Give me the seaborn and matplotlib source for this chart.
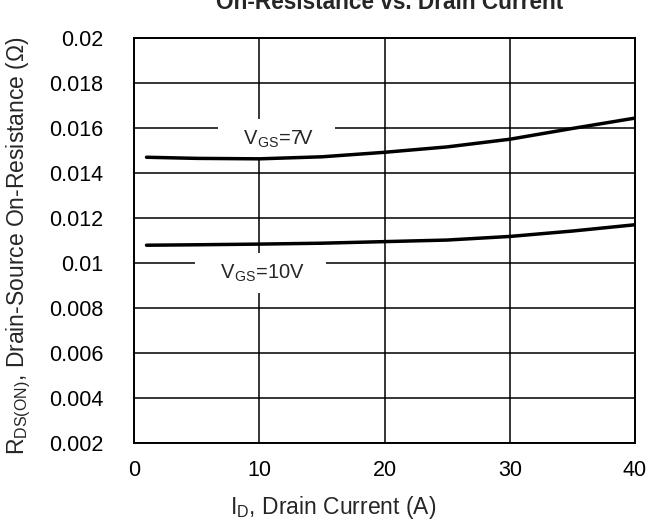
import matplotlib
matplotlib.use("Agg")
import matplotlib.pyplot as plt
import pandas as pd
import seaborn as sns

# drain current (A)
current = [1, 5, 10, 15, 20, 25, 30, 35, 40]
# on-resistance (ohm) for each gate voltage
rds_7v = [0.01470, 0.01465, 0.01463, 0.01472, 0.01492, 0.01516, 0.01550, 0.01598, 0.01644]
rds_10v = [0.01079, 0.01081, 0.01084, 0.01088, 0.01095, 0.01102, 0.01118, 0.01142, 0.01170]
series_names = ["VGS=7V", "VGS=10V"]
x_ticks = [0, 10, 20, 30, 40]
y_ticks = [0.002, 0.004, 0.006, 0.008, 0.01, 0.012, 0.014, 0.016, 0.018, 0.02]
y_tick_labels = ["0.002", "0.004", "0.006", "0.008", "0.01", "0.012", "0.014", "0.016", "0.018", "0.02"]

df = pd.concat([
    pd.DataFrame({"current": current, "rds": rds_7v, "vgs": series_names[0]}),
    pd.DataFrame({"current": current, "rds": rds_10v, "vgs": series_names[1]}),
])

sns.set_style("white")
plt.rcParams["font.family"] = ["Liberation Sans", "DejaVu Sans"]
plt.rcParams["mathtext.default"] = "regular"

fig = plt.figure(figsize=(6.51, 5.26), dpi=100)
ax = fig.add_axes([134 / 651, 1 - 443 / 526, 501 / 651, 405 / 526])

sns.lineplot(data=df, x="current", y="rds", hue="vgs", palette=["black", "black"],
             linewidth=2.5, legend=False, ax=ax, zorder=5)

ax.set_xlim(0, 40)
ax.set_ylim(0.002, 0.02)
ax.set_xticks(x_ticks)
ax.set_yticks(y_ticks)
ax.set_yticklabels(y_tick_labels)
ax.grid(True, color="black", linewidth=1.1)
ax.set_axisbelow(True)
for sp in ax.spines.values():
    sp.set_color("black")
    sp.set_linewidth(1.4)
ax.tick_params(axis="both", length=0, labelsize=15.5, colors="black")
ax.tick_params(axis="y", pad=22)
ax.tick_params(axis="x", pad=12)

ax.set_xlabel("I$_D$, Drain Current (A)", fontsize=16.5)
ax.set_ylabel("R$_{DS(ON)}$, Drain-Source On-Resistance (\u03a9)", fontsize=16.5)
ax.xaxis.set_label_coords((333 - 134) / 501, -0.125)
ax.yaxis.set_label_coords((33 - 134) / 501, (443 - 246) / 405)

ax.text(11.4, 0.01551, "   V$_{GS}$=7V   ", fontsize=14.5, ha="center", va="center", zorder=3,
        bbox=dict(facecolor="white", edgecolor="none", boxstyle="square,pad=0.45"))
ax.text(10.1, 0.00956, "   V$_{GS}$=10V   ", fontsize=14.5, ha="center", va="center", zorder=3,
        bbox=dict(facecolor="white", edgecolor="none", boxstyle="square,pad=0.45"))

fig.text(390 / 651, 1 - 9 / 526, "On-Resistance vs. Drain Current", fontsize=16.3,
         fontweight="bold", ha="center", va="baseline")

fig.savefig("out.png", dpi=100)
